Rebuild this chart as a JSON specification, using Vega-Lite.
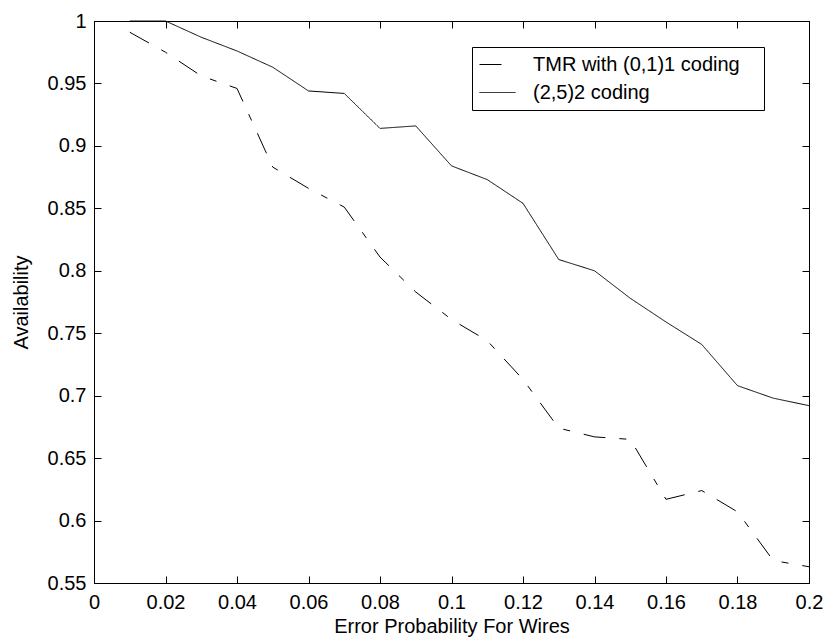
{
  "$schema": "https://vega.github.io/schema/vega-lite/v6.json",
  "width": 715,
  "height": 562,
  "autosize": {"type": "none"},
  "padding": {"left": 94, "top": 21, "right": 19, "bottom": 56},
  "background": "white",
  "data": {
    "values": [
      {"p": 0.01, "a": 0.991, "s": "TMR with (0,1)1 coding"},
      {"p": 0.02, "a": 0.975, "s": "TMR with (0,1)1 coding"},
      {"p": 0.03, "a": 0.956, "s": "TMR with (0,1)1 coding"},
      {"p": 0.04, "a": 0.946, "s": "TMR with (0,1)1 coding"},
      {"p": 0.05, "a": 0.883, "s": "TMR with (0,1)1 coding"},
      {"p": 0.06, "a": 0.866, "s": "TMR with (0,1)1 coding"},
      {"p": 0.07, "a": 0.851, "s": "TMR with (0,1)1 coding"},
      {"p": 0.08, "a": 0.811, "s": "TMR with (0,1)1 coding"},
      {"p": 0.09, "a": 0.783, "s": "TMR with (0,1)1 coding"},
      {"p": 0.10, "a": 0.761, "s": "TMR with (0,1)1 coding"},
      {"p": 0.11, "a": 0.744, "s": "TMR with (0,1)1 coding"},
      {"p": 0.12, "a": 0.713, "s": "TMR with (0,1)1 coding"},
      {"p": 0.13, "a": 0.674, "s": "TMR with (0,1)1 coding"},
      {"p": 0.14, "a": 0.667, "s": "TMR with (0,1)1 coding"},
      {"p": 0.15, "a": 0.665, "s": "TMR with (0,1)1 coding"},
      {"p": 0.16, "a": 0.617, "s": "TMR with (0,1)1 coding"},
      {"p": 0.17, "a": 0.624, "s": "TMR with (0,1)1 coding"},
      {"p": 0.18, "a": 0.607, "s": "TMR with (0,1)1 coding"},
      {"p": 0.19, "a": 0.568, "s": "TMR with (0,1)1 coding"},
      {"p": 0.20, "a": 0.563, "s": "TMR with (0,1)1 coding"},
      {"p": 0.01, "a": 1.0, "s": "(2,5)2 coding"},
      {"p": 0.02, "a": 1.0, "s": "(2,5)2 coding"},
      {"p": 0.03, "a": 0.987, "s": "(2,5)2 coding"},
      {"p": 0.04, "a": 0.976, "s": "(2,5)2 coding"},
      {"p": 0.05, "a": 0.963, "s": "(2,5)2 coding"},
      {"p": 0.06, "a": 0.944, "s": "(2,5)2 coding"},
      {"p": 0.07, "a": 0.942, "s": "(2,5)2 coding"},
      {"p": 0.08, "a": 0.914, "s": "(2,5)2 coding"},
      {"p": 0.09, "a": 0.916, "s": "(2,5)2 coding"},
      {"p": 0.10, "a": 0.884, "s": "(2,5)2 coding"},
      {"p": 0.11, "a": 0.873, "s": "(2,5)2 coding"},
      {"p": 0.12, "a": 0.854, "s": "(2,5)2 coding"},
      {"p": 0.13, "a": 0.809, "s": "(2,5)2 coding"},
      {"p": 0.14, "a": 0.800, "s": "(2,5)2 coding"},
      {"p": 0.15, "a": 0.778, "s": "(2,5)2 coding"},
      {"p": 0.16, "a": 0.759, "s": "(2,5)2 coding"},
      {"p": 0.17, "a": 0.741, "s": "(2,5)2 coding"},
      {"p": 0.18, "a": 0.708, "s": "(2,5)2 coding"},
      {"p": 0.19, "a": 0.698, "s": "(2,5)2 coding"},
      {"p": 0.20, "a": 0.692, "s": "(2,5)2 coding"}
    ]
  },
  "layer": [
    {
      "mark": {"type": "line", "color": "black", "strokeWidth": 1},
      "encoding": {
        "x": {
          "field": "p", "type": "quantitative",
          "scale": {"domain": [0, 0.2], "nice": false, "zero": false},
          "axis": {
            "orient": "bottom",
            "title": "Error Probability For Wires",
            "values": [0, 0.02, 0.04, 0.06, 0.08, 0.1, 0.12, 0.14, 0.16, 0.18, 0.2],
            "format": "~g",
            "tickSize": -7,
            "labelPadding": 16,
            "titlePadding": 4
          }
        },
        "y": {
          "field": "a", "type": "quantitative",
          "scale": {"domain": [0.55, 1], "nice": false, "zero": false},
          "axis": {
            "orient": "left",
            "title": "Availability",
            "values": [0.55, 0.6, 0.65, 0.7, 0.75, 0.8, 0.85, 0.9, 0.95, 1],
            "format": "~g",
            "tickSize": -7,
            "labelPadding": 15,
            "titlePadding": 16
          }
        },
        "strokeDash": {
          "field": "s", "type": "nominal",
          "scale": {
            "domain": ["TMR with (0,1)1 coding", "(2,5)2 coding"],
            "range": [[22, 14, 7, 14], [1, 0]]
          },
          "legend": {
            "title": " ",
            "titleOrient": "right",
            "titleFontSize": 20,
            "titlePadding": 17,
            "orient": "none",
            "legendX": 378,
            "legendY": 26,
            "padding": 7,
            "rowPadding": 7,
            "strokeColor": "black",
            "fillColor": "white",
            "symbolType": "M-1,0H2.6",
            "symbolSize": 400,
            "symbolStrokeColor": "black",
            "symbolStrokeWidth": 1,
            "labelFontSize": 20,
            "labelOffset": 33,
            "labelLimit": 400
          }
        }
      }
    },
    {
      "mark": {"type": "line", "opacity": 0},
      "encoding": {
        "x": {
          "field": "p", "type": "quantitative",
          "axis": {
            "orient": "top", "title": null, "labels": false,
            "values": [0, 0.02, 0.04, 0.06, 0.08, 0.1, 0.12, 0.14, 0.16, 0.18, 0.2],
            "tickSize": -7
          }
        },
        "y": {
          "field": "a", "type": "quantitative",
          "axis": {
            "orient": "right", "title": null, "labels": false,
            "values": [0.55, 0.6, 0.65, 0.7, 0.75, 0.8, 0.85, 0.9, 0.95, 1],
            "tickSize": -7
          }
        },
        "detail": {"field": "s"}
      }
    }
  ],
  "resolve": {"axis": {"x": "independent", "y": "independent"}},
  "config": {
    "font": "Liberation Sans",
    "view": {"stroke": "black", "strokeWidth": 1},
    "axis": {
      "grid": false,
      "domainColor": "black",
      "tickColor": "black",
      "labelColor": "black",
      "titleColor": "black",
      "labelFontSize": 20,
      "titleFontSize": 20,
      "titleFontWeight": "normal",
      "labelFont": "Liberation Sans",
      "titleFont": "Liberation Sans",
      "labelFlush": false,
      "labelOverlap": false
    },
    "legend": {
      "labelFont": "Liberation Sans",
      "labelColor": "black",
      "titleFont": "Liberation Sans"
    }
  }
}
